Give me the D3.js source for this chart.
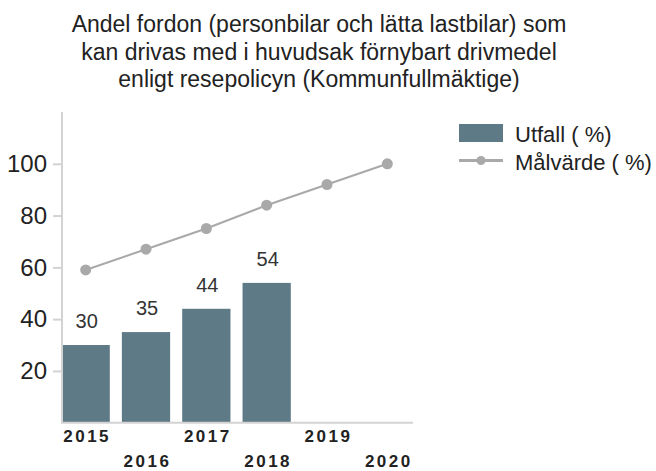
<!DOCTYPE html>
<html>
<head>
<meta charset="utf-8">
<script src="https://cdn.jsdelivr.net/npm/d3@7"></script>
<style>
  body { margin: 0; background: #fff; }
  svg { font-family: "Liberation Sans", Arial, sans-serif; }
</style>
</head>
<body>
<svg id="chart" width="656" height="471"></svg>
<script>
// data
var years = ["2015", "2016", "2017", "2018", "2019", "2020"];
var utfall = [30, 35, 44, 54, null, null];
var malvarde = [59, 67, 75, 84, 92, 100];
var yTicks = [20, 40, 60, 80, 100];
var titleLines = [
  "Andel fordon (personbilar och lätta lastbilar) som",
  "kan drivas med i huvudsak förnybart drivmedel",
  "enligt resepolicyn (Kommunfullmäktige)"
];
var legendLabels = ["Utfall ( %)", "Målvärde ( %)"];

var svg = d3.select("#chart");

var barColor = "#5f7a87",
    lineColor = "#a9a9a9",
    axisColor = "#d3d3d3",
    textColor = "#222";

var axisLeft = 62, axisRight = 413, axisTop = 112, axisBottom = 422.7;

var x = d3.scaleBand().domain(years).range([55.5, 417.5]).paddingInner(0.2).paddingOuter(0.1);
var y = d3.scaleLinear().domain([0, 120]).range([axisBottom, axisTop]);
var cx = function(d) { return x(d) + x.bandwidth() / 2; };

// title
svg.append("g").selectAll("text")
  .data(titleLines)
  .enter().append("text")
  .attr("x", 319)
  .attr("y", function(d, i) { return 32 + i * 27.5; })
  .attr("text-anchor", "middle")
  .style("font-size", "23px")
  .style("fill", textColor)
  .text(function(d) { return d; });

// clip so the first bar starts at the axis
svg.append("clipPath").attr("id", "plotclip")
  .append("rect")
  .attr("x", axisLeft + 1).attr("y", 0)
  .attr("width", 400).attr("height", axisBottom);

// bars
var barData = years.map(function(yr, i) { return { year: yr, v: utfall[i] }; })
  .filter(function(d) { return d.v != null; });

svg.append("g").attr("clip-path", "url(#plotclip)")
  .selectAll(".bar")
  .data(barData)
  .enter().append("rect")
  .attr("class", "bar")
  .attr("x", function(d) { return x(d.year); })
  .attr("width", x.bandwidth())
  .attr("y", function(d) { return y(d.v); })
  .attr("height", function(d) { return y(0) - y(d.v); })
  .attr("fill", barColor);

// bar labels
svg.append("g").selectAll("text")
  .data(barData)
  .enter().append("text")
  .attr("x", function(d) { return cx(d.year) + 1; })
  .attr("y", function(d) { return y(d.v) - 17; })
  .attr("text-anchor", "middle")
  .style("font-size", "20px")
  .style("fill", "#333")
  .text(function(d) { return d.v; });

// y axis
var yAxis = svg.append("g").attr("transform", "translate(" + axisLeft + ",0)")
  .call(d3.axisLeft(y).tickValues(yTicks).tickSize(9).tickPadding(6));
yAxis.select(".domain").remove();
yAxis.selectAll(".tick line").attr("stroke", axisColor).attr("stroke-width", 2);
yAxis.selectAll(".tick text")
  .style("font-size", "24px")
  .style("font-family", "Liberation Sans, Arial, sans-serif")
  .attr("fill", textColor);

svg.append("line")
  .attr("x1", axisLeft).attr("x2", axisLeft)
  .attr("y1", axisTop).attr("y2", axisBottom)
  .attr("stroke", axisColor).attr("stroke-width", 2);

// x axis (labels staggered)
svg.append("line")
  .attr("x1", axisLeft - 1).attr("x2", axisRight)
  .attr("y1", axisBottom).attr("y2", axisBottom)
  .attr("stroke", axisColor).attr("stroke-width", 2);

svg.append("g").selectAll("text")
  .data(years)
  .enter().append("text")
  .attr("x", function(d) { return cx(d) + 1.5; })
  .attr("y", function(d, i) { return i % 2 === 0 ? 441.5 : 466.5; })
  .attr("text-anchor", "middle")
  .style("font-size", "17px")
  .style("font-weight", "bold")
  .style("letter-spacing", "2.5px")
  .style("fill", textColor)
  .text(function(d) { return d; });

// target line
var line = d3.line()
  .x(function(d, i) { return cx(years[i]); })
  .y(function(d) { return y(d); });

svg.append("path")
  .datum(malvarde)
  .attr("d", line)
  .attr("fill", "none")
  .attr("stroke", lineColor)
  .attr("stroke-width", 2);

svg.append("g").selectAll("circle")
  .data(malvarde)
  .enter().append("circle")
  .attr("cx", function(d, i) { return cx(years[i]); })
  .attr("cy", function(d) { return y(d); })
  .attr("r", 5.5)
  .attr("fill", lineColor);

// legend
var legend = svg.append("g").attr("transform", "translate(459,0)");
legend.append("rect")
  .attr("x", 0).attr("y", 124)
  .attr("width", 44).attr("height", 18)
  .attr("fill", barColor);
legend.append("line")
  .attr("x1", 0).attr("x2", 44)
  .attr("y1", 160.5).attr("y2", 160.5)
  .attr("stroke", lineColor).attr("stroke-width", 3);
legend.append("circle")
  .attr("cx", 22).attr("cy", 160.5).attr("r", 4.5)
  .attr("fill", lineColor);
legend.selectAll(".lt")
  .data(legendLabels)
  .enter().append("text")
  .attr("class", "lt")
  .attr("x", 56)
  .attr("y", function(d, i) { return 141.5 + i * 28.5; })
  .style("font-size", "22px")
  .style("fill", textColor)
  .text(function(d) { return d; });
</script>
</body>
</html>
